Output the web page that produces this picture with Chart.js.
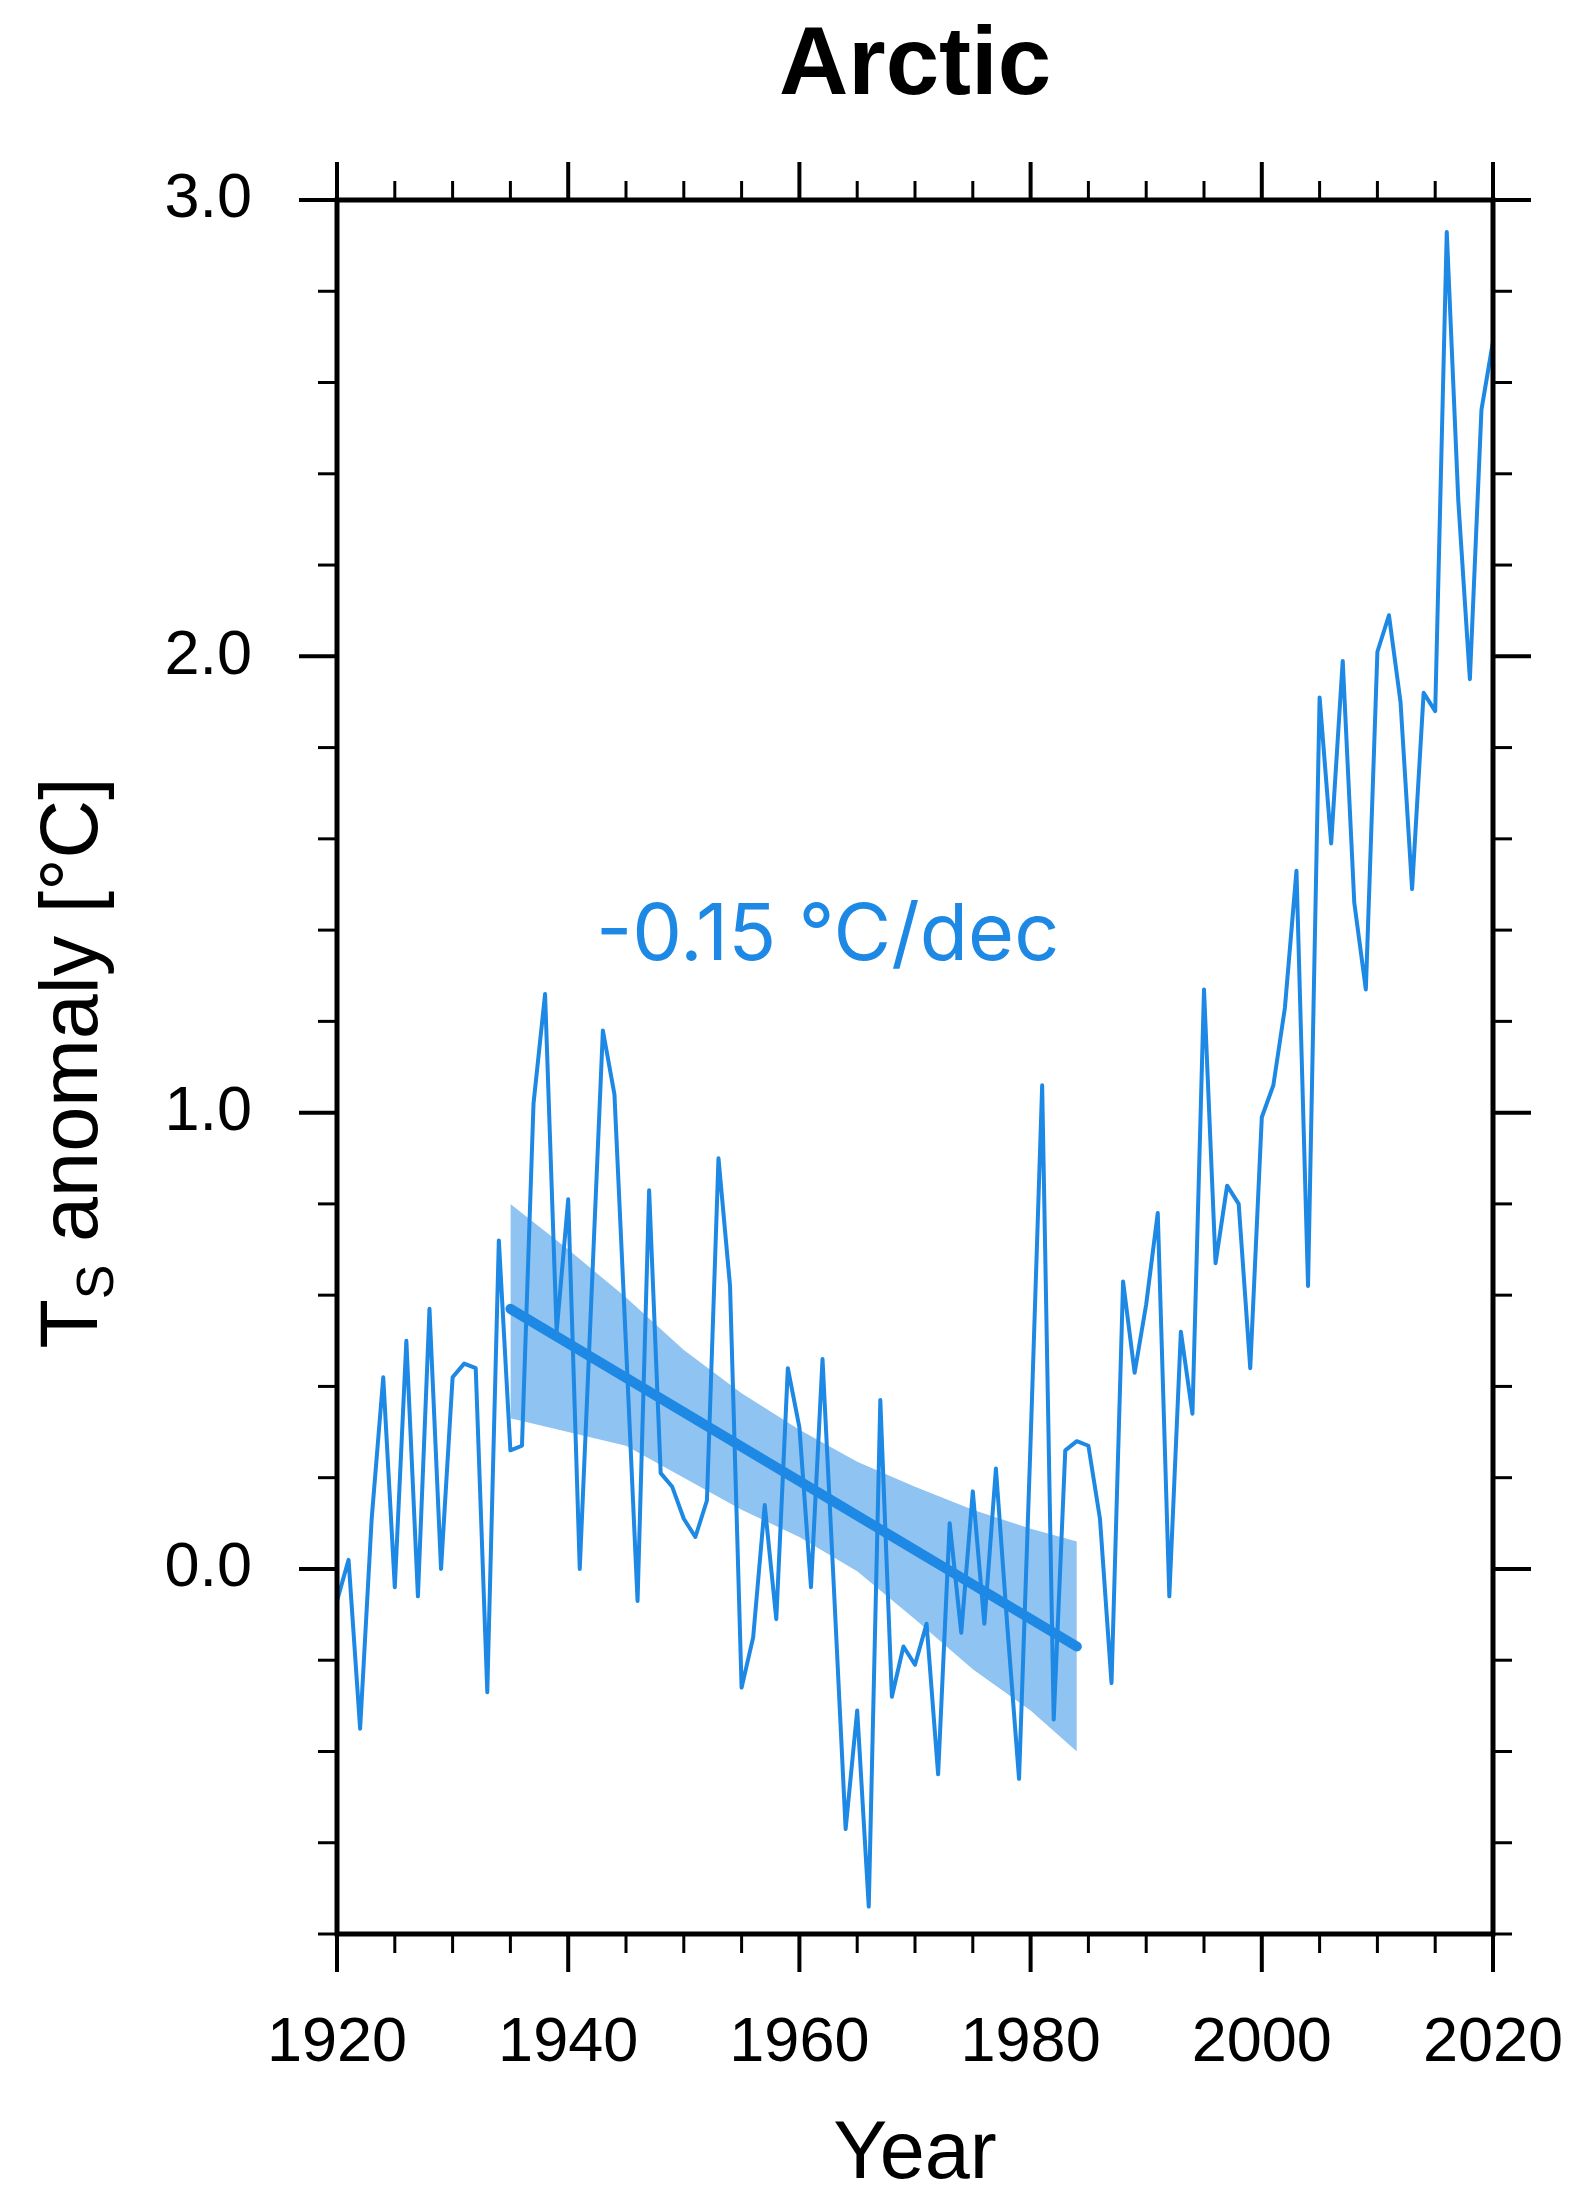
<!DOCTYPE html>
<html>
<head>
<meta charset="utf-8">
<title>Arctic</title>
<script src="https://cdn.jsdelivr.net/npm/chart.js@4.4.1/dist/chart.umd.min.js"></script>
<style>
  html, body { margin: 0; padding: 0; background: #fff; }
  canvas { display: block; }
</style>
</head>
<body>
<canvas id="arcticChart" width="1573" height="2193"></canvas>
<script>
// Arctic surface temperature anomaly, one value per year from 1920 to 2020 (°C)
const firstYear = 1920;
const tsAnomaly = [
  -0.07, 0.02, -0.35, 0.11, 0.42, -0.04, 0.50, -0.06, 0.57, 0.00,   // 1920-29
  0.42, 0.45, 0.44, -0.27, 0.72, 0.26, 0.27, 1.02, 1.26, 0.52,      // 1930-39
  0.81, 0.00, 0.59, 1.18, 1.04, 0.49, -0.07, 0.83, 0.21, 0.18,      // 1940-49
  0.11, 0.07, 0.15, 0.90, 0.62, -0.26, -0.15, 0.14, -0.11, 0.44,    // 1950-59
  0.31, -0.04, 0.46, -0.05, -0.57, -0.31, -0.74, 0.37, -0.28, -0.17, // 1960-69
  -0.21, -0.12, -0.45, 0.10, -0.14, 0.17, -0.12, 0.22, -0.13, -0.46, // 1970-79
  0.28, 1.06, -0.33, 0.26, 0.28, 0.27, 0.11, -0.25, 0.63, 0.43,     // 1980-89
  0.58, 0.78, -0.06, 0.52, 0.34, 1.27, 0.67, 0.84, 0.80, 0.44,      // 1990-99
  0.99, 1.06, 1.23, 1.53, 0.62, 1.91, 1.59, 1.99, 1.46, 1.27,       // 2000-09
  2.01, 2.09, 1.90, 1.49, 1.92, 1.88, 2.93, 2.34, 1.95, 2.54,       // 2010-19
  2.69                                                               // 2020
];

// linear trend 1935-1984 and its confidence band
const trendYears = [1935, 1984];
const trendValues = [0.57, -0.17];
const bandYears = [1935, 1940, 1945, 1950, 1955, 1960, 1965, 1970, 1975, 1980, 1984];
const bandUpper = [0.80, 0.70, 0.595, 0.48, 0.385, 0.305, 0.235, 0.18, 0.13, 0.088, 0.06];
const bandLower = [0.33, 0.30, 0.27, 0.20, 0.13, 0.07, -0.005, -0.11, -0.22, -0.31, -0.40];
const trendLabel = "-0.15 \u00B0C/dec";
const titleText = "Arctic";

// axes
const xMajorTicks = [1920, 1940, 1960, 1980, 2000, 2020];
const xMinorTicks = [1925, 1930, 1935, 1945, 1950, 1955, 1965, 1970, 1975,
                     1985, 1990, 1995, 2005, 2010, 2015];
const yMajorTicks = [0, 1, 2, 3];
const yMinorTicks = [-0.8, -0.6, -0.4, -0.2, 0.2, 0.4, 0.6, 0.8, 1.2, 1.4, 1.6, 1.8,
                     2.2, 2.4, 2.6, 2.8];

const blue = "#1e88e5";
const blueBand = "rgba(30,136,229,0.5)";
const helv = '"Liberation Sans", Arial, Helvetica, sans-serif';

const toPoints = (xs, ys) => xs.map((x, i) => ({ x: x, y: ys[i] }));
const obsPoints = tsAnomaly.map((v, i) => ({ x: firstYear + i, y: v }));

// frame with outward ticks on all four sides, title, y title with subscript, trend label
const ncLikeAxes = {
  id: "ncLikeAxes",
  afterDraw(chart) {
    const { ctx, chartArea: a, scales: { x, y } } = chart;
    ctx.save();
    ctx.strokeStyle = "#000";
    ctx.lineCap = "butt";

    const seg = (x1, y1, x2, y2, w) => {
      ctx.lineWidth = w;
      ctx.beginPath();
      ctx.moveTo(x1, y1);
      ctx.lineTo(x2, y2);
      ctx.stroke();
    };
    xMajorTicks.forEach((v) => {
      const px = x.getPixelForValue(v);
      seg(px, a.top, px, a.top - 38, 4);
      seg(px, a.bottom, px, a.bottom + 38, 4);
    });
    xMinorTicks.forEach((v) => {
      const px = x.getPixelForValue(v);
      seg(px, a.top, px, a.top - 19, 3);
      seg(px, a.bottom, px, a.bottom + 19, 3);
    });
    yMajorTicks.forEach((v) => {
      const py = y.getPixelForValue(v);
      seg(a.left, py, a.left - 38, py, 4);
      seg(a.right, py, a.right + 38, py, 4);
    });
    yMinorTicks.forEach((v) => {
      const py = y.getPixelForValue(v);
      seg(a.left, py, a.left - 19, py, 3);
      seg(a.right, py, a.right + 19, py, 3);
    });
    ctx.lineWidth = 5;
    ctx.strokeRect(a.left, a.top, a.right - a.left, a.bottom - a.top);

    // title, centred over the plot
    ctx.fillStyle = "#000";
    ctx.font = "bold 96px " + helv;
    ctx.textAlign = "center";
    ctx.textBaseline = "alphabetic";
    ctx.fillText(titleText, (a.left + a.right) / 2, 94);

    // y axis title: T with subscript S
    const big = "81px " + helv;
    const small = "52px " + helv;
    ctx.textAlign = "left";
    ctx.font = big;
    const wT = ctx.measureText("T").width;
    const wRest = ctx.measureText(" anomaly [\u00B0C]").width;
    ctx.font = small;
    const wS = ctx.measureText("S").width;
    const total = wT + wS + wRest;
    ctx.translate(a.left - 240, (a.top + a.bottom) / 2 - 4);
    ctx.rotate(-Math.PI / 2);
    let cx = -total / 2;
    ctx.font = big;
    ctx.fillText("T", cx, 0);
    cx += wT;
    ctx.font = small;
    ctx.fillText("S", cx, 16);
    cx += wS;
    ctx.font = big;
    ctx.fillText(" anomaly [\u00B0C]", cx, 0);
    ctx.restore();

    // trend label
    ctx.save();
    ctx.fillStyle = blue;
    ctx.font = '79px Inter, "Noto Sans", sans-serif';
    ctx.textAlign = "left";
    ctx.textBaseline = "alphabetic";
    ctx.fillText(trendLabel, x.getPixelForValue(1942.4), y.getPixelForValue(1.334));
    ctx.restore();
  },
};

const ctx = document.getElementById("arcticChart").getContext("2d");
new Chart(ctx, {
  type: "line",
  data: {
    datasets: [
      {
        label: "trend",
        data: toPoints(trendYears, trendValues),
        borderColor: blue,
        borderWidth: 10,
        borderCapStyle: "round",
        pointRadius: 0,
        fill: false,
      },
      {
        label: "Ts anomaly",
        data: obsPoints,
        borderColor: blue,
        borderWidth: 4,
        borderJoinStyle: "round",
        pointRadius: 0,
        fill: false,
      },
      {
        label: "upper",
        data: toPoints(bandYears, bandUpper),
        borderWidth: 0,
        borderColor: "rgba(0,0,0,0)",
        backgroundColor: blueBand,
        pointRadius: 0,
        fill: "+1",
      },
      {
        label: "lower",
        data: toPoints(bandYears, bandLower),
        borderWidth: 0,
        borderColor: "rgba(0,0,0,0)",
        pointRadius: 0,
        fill: false,
      },
    ],
  },
  options: {
    responsive: false,
    devicePixelRatio: 1,
    animation: false,
    layout: { padding: { left: 0, right: 80, top: 200, bottom: 0 } },
    plugins: {
      legend: { display: false },
      tooltip: { enabled: false },
      title: { display: false },
    },
    scales: {
      x: {
        type: "linear",
        min: 1920,
        max: 2020,
        afterBuildTicks: (s) => { s.ticks = xMajorTicks.map((v) => ({ value: v })); },
        afterFit: (s) => {
          s.height = 259;
          s.paddingLeft = 0;
          s.paddingRight = 0;
        },
        grid: { display: false, drawTicks: false },
        border: { display: false },
        ticks: {
          color: "#000",
          font: { family: helv, size: 63, lineHeight: 1 },
          padding: 78,
          maxRotation: 0,
          autoSkip: false,
          callback: (v) => String(v),
        },
        title: {
          display: true,
          text: "Year",
          color: "#000",
          font: { family: helv, size: 81, lineHeight: 0.9 },
          padding: { top: 0, bottom: 0.5 },
        },
      },
      y: {
        min: -0.8,
        max: 3.0,
        afterBuildTicks: (s) => { s.ticks = yMajorTicks.map((v) => ({ value: v })); },
        afterFit: (s) => {
          s.width = 337;
          s.paddingTop = 0;
          s.paddingBottom = 0;
        },
        grid: { display: false, drawTicks: false },
        border: { display: false },
        ticks: {
          color: "#000",
          font: { family: helv, size: 63, lineHeight: 1 },
          padding: 85,
          callback: (v) => v.toFixed(1),
        },
      },
    },
  },
  plugins: [ncLikeAxes],
});
</script>
</body>
</html>
